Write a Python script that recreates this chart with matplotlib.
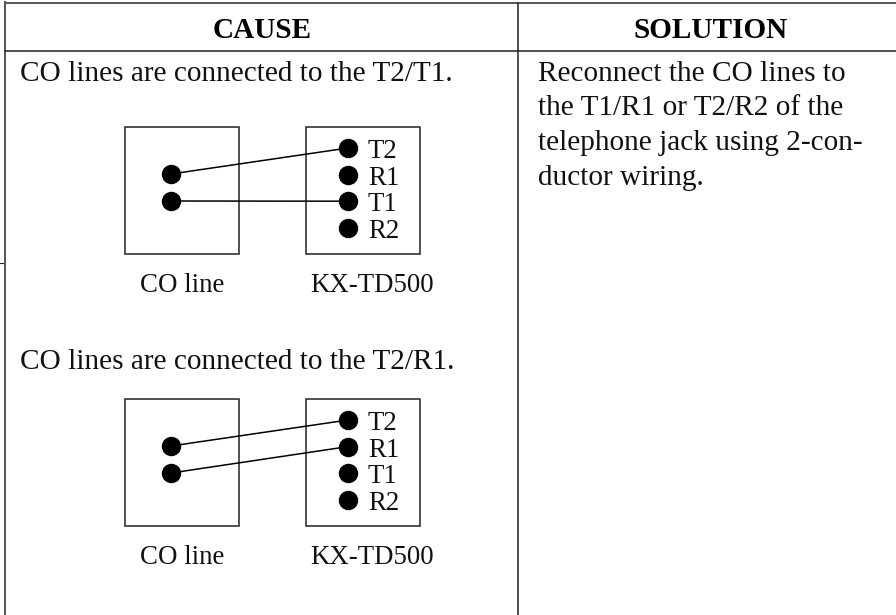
#!/usr/bin/env python3
"""Troubleshooting table: wrong CO line connections on the telephone jack."""

import matplotlib

matplotlib.use("Agg")
import matplotlib.pyplot as plt
from matplotlib.patches import Rectangle

WIDTH = 896
HEIGHT = 615
DPI = 100

HEADERS = ["CAUSE", "SOLUTION"]
CAUSES = ["CO lines are connected to the T2/T1.", "CO lines are connected to the T2/R1."]
SOLUTION_LINES = [
    "Reconnect the CO lines to",
    "the T1/R1 or T2/R2 of the",
    "telephone jack using 2-con-",
    "ductor wiring.",
]
BOX_LABELS = ["CO line", "KX-TD500"]
PINS = ["T2", "R1", "T1", "R2"]
# which two jack pins the CO lines land on, one list per diagram
WIRED_PINS = [["T2", "T1"], ["T2", "R1"]]

# top of each diagram box in pixels
DIAGRAM_TOPS = [127, 399]
CAUSE_BASELINES = [81, 369]
SOLUTION_BASELINES = [81, 115, 150, 185]

plt.rcParams["font.family"] = ["Liberation Serif", "DejaVu Serif"]
TEXT_SIZE = 21.1
LABEL_SIZE = 19.4


def draw_diagram(ax, top, wired):
    for x in (125, 306):
        ax.add_patch(Rectangle((x, top), 113.5, 127, fill=False, ec="#222222", lw=1.1))

    pin_y = {pin: top + 21 + 26.6 * i for i, pin in enumerate(PINS)}
    co_y = [top + 47, top + 74]

    for pin, y in pin_y.items():
        ax.plot(348, y, "o", color="k", ms=14, mew=0)
        ax.text(368, y + 10, pin, fontsize=LABEL_SIZE, va="baseline", color="#111111")

    for y, pin in zip(co_y, wired):
        ax.plot([171, 348], [y, pin_y[pin]], color="k", lw=1.1)
        ax.plot(171, y, "o", color="k", ms=14, mew=0)

    for x, label in zip((182, 372), BOX_LABELS):
        ax.text(x, top + 164.5, label, fontsize=LABEL_SIZE, ha="center", va="baseline", color="#111111")


def main():
    fig = plt.figure(figsize=(WIDTH / DPI, HEIGHT / DPI), dpi=DPI)
    ax = fig.add_axes([0, 0, 1, 1])
    ax.set_xlim(0, WIDTH)
    ax.set_ylim(HEIGHT, 0)
    ax.axis("off")

    # table rules
    ax.plot([5, WIDTH], [2.5, 2.5], color="#555555", lw=1.4)
    ax.plot([5, 5], [2, HEIGHT], color="#555555", lw=1.4)
    ax.plot([5, WIDTH], [51, 51], color="#222222", lw=1.1)
    ax.plot([518, 518], [3, HEIGHT], color="#222222", lw=1.1)
    ax.plot([0, 3], [263, 263], color="#222222", lw=0.8)

    for x, header in zip((262, 711), HEADERS):
        ax.text(x, 37.5, header, fontsize=TEXT_SIZE, fontweight="bold", ha="center", va="baseline", color="k")

    for y, cause in zip(CAUSE_BASELINES, CAUSES):
        ax.text(20, y, cause, fontsize=TEXT_SIZE, va="baseline", color="#111111")

    for y, line in zip(SOLUTION_BASELINES, SOLUTION_LINES):
        ax.text(538, y, line, fontsize=TEXT_SIZE, va="baseline", color="#111111")

    for top, wired in zip(DIAGRAM_TOPS, WIRED_PINS):
        draw_diagram(ax, top, wired)

    fig.savefig("out.png", dpi=DPI)


if __name__ == "__main__":
    main()
